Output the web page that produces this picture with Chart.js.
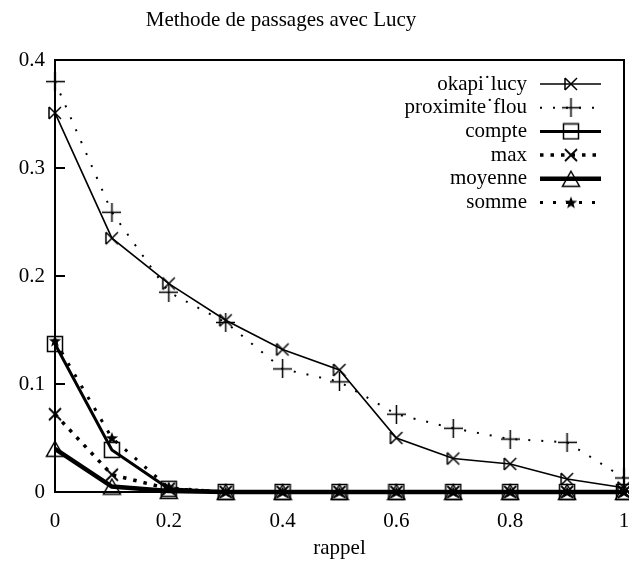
<!DOCTYPE html>
<html>
<head>
<meta charset="utf-8">
<script src="https://cdn.jsdelivr.net/npm/chart.js@4.4.0/dist/chart.umd.min.js"></script>
<style>
  html, body { margin: 0; padding: 0; background: #fff; }
  #wrap { width: 629px; height: 565px; }
</style>
</head>
<body>
<div id="wrap"><canvas id="chart" width="629" height="565"></canvas></div>
<script>
// Data
const rappel = [0, 0.1, 0.2, 0.3, 0.4, 0.5, 0.6, 0.7, 0.8, 0.9, 1];
const okapiLucy = [0.351, 0.235, 0.193, 0.159, 0.132, 0.113, 0.050, 0.031, 0.026, 0.012, 0.004];
const proximiteFlou = [0.380, 0.259, 0.185, 0.157, 0.114, 0.102, 0.072, 0.059, 0.049, 0.046, 0.013];
const compte = [0.137, 0.039, 0.003, 0, 0, 0, 0, 0, 0, 0, 0];
const maxVals = [0.072, 0.016, 0.003, 0, 0, 0, 0, 0, 0, 0, 0];
const moyenne = [0.040, 0.005, 0.001, 0, 0, 0, 0, 0, 0, 0, 0];
const somme = [0.140, 0.050, 0.004, 0, 0, 0, 0, 0, 0, 0, 0];
const seriesNames = ['okapi\u02d9lucy', 'proximite\u02d9flou', 'compte', 'max', 'moyenne', 'somme'];
const yTicks = [0, 0.1, 0.2, 0.3, 0.4];
const xTicks = [0, 0.2, 0.4, 0.6, 0.8, 1];
const chartTitle = 'Methode de passages avec Lucy';

const FONT = '"Liberation Serif", "DejaVu Serif", serif';

// small canvases used as point markers
function makeMarker(w, h, draw) {
    const c = document.createElement('canvas');
    c.width = w; c.height = h;
    const g = c.getContext('2d');
    g.strokeStyle = '#000';
    g.fillStyle = '#000';
    g.lineWidth = 1.5;
    draw(g, w, h);
    return c;
}

const bowtie = makeMarker(16, 16, (g) => {
    g.beginPath();
    g.moveTo(2, 2); g.lineTo(14, 14);
    g.moveTo(2, 14); g.lineTo(14, 2);
    g.moveTo(2, 2); g.lineTo(2, 14);
    g.stroke();
});
const plus = makeMarker(19, 19, (g) => {
    g.beginPath();
    g.moveTo(0, 9.5); g.lineTo(19, 9.5);
    g.moveTo(9.5, 0); g.lineTo(9.5, 19);
    g.stroke();
});
const square = makeMarker(18, 18, (g) => {
    g.strokeRect(1.5, 1.5, 15, 15);
});
const cross = makeMarker(16, 16, (g) => {
    g.lineWidth = 1.8;
    g.beginPath();
    g.moveTo(2, 2); g.lineTo(14, 14);
    g.moveTo(2, 14); g.lineTo(14, 2);
    g.stroke();
});
const triangle = makeMarker(20, 18, (g) => {
    g.beginPath();
    g.moveTo(10, 1.5); g.lineTo(18.5, 16.5); g.lineTo(1.5, 16.5);
    g.closePath();
    g.stroke();
});
const star = makeMarker(14, 14, (g) => {
    g.beginPath();
    for (let i = 0; i < 10; i++) {
        const r = i % 2 === 0 ? 6.5 : 2.7;
        const a = -Math.PI / 2 + i * Math.PI / 5;
        const px = 7 + r * Math.cos(a), py = 7.5 + r * Math.sin(a);
        if (i === 0) g.moveTo(px, py); else g.lineTo(px, py);
    }
    g.closePath();
    g.fill();
});

function pts(values) {
    return rappel.map((x, i) => ({ x: x, y: values[i] }));
}

function makeDataset(label, values, width, dash, marker) {
    return {
        label: label,
        data: pts(values),
        borderColor: '#000',
        backgroundColor: '#000',
        borderWidth: width,
        borderDash: dash,
        borderCapStyle: 'butt',
        pointStyle: marker,
        pointRadius: 8,
        pointHoverRadius: 8,
        tension: 0,
        clip: false,
        fill: false
    };
}

const datasets = [
    makeDataset(seriesNames[0], okapiLucy, 1.6, [], bowtie),
    makeDataset(seriesNames[1], proximiteFlou, 2, [2, 11], plus),
    makeDataset(seriesNames[2], compte, 3, [], square),
    makeDataset(seriesNames[3], maxVals, 3.5, [3.5, 7], cross),
    makeDataset(seriesNames[4], moyenne, 4.5, [], triangle),
    makeDataset(seriesNames[5], somme, 3, [3, 10], star)
];

// title, frame, inward y ticks and the gnuplot-style key
const framePlugin = {
    id: 'framePlugin',
    afterDraw(chart) {
        const ctx = chart.ctx;
        const a = chart.chartArea;
        const yScale = chart.scales.y;
        ctx.save();
        ctx.font = '21px ' + FONT;
        ctx.fillStyle = '#000';
        ctx.textAlign = 'center';
        ctx.textBaseline = 'middle';
        ctx.fillText(chartTitle, 281, 20);

        ctx.strokeStyle = '#000';
        ctx.lineWidth = 2;
        ctx.setLineDash([]);
        ctx.strokeRect(a.left, a.top, a.right - a.left, a.bottom - a.top);
        ctx.beginPath();
        yTicks.forEach(v => {
            const py = yScale.getPixelForValue(v);
            ctx.moveTo(a.left, py);
            ctx.lineTo(a.left + 10, py);
        });
        ctx.stroke();

        // key
        ctx.textAlign = 'right';
        chart.data.datasets.forEach((ds, i) => {
            const y = 84 + i * 23.7;
            ctx.fillText(ds.label, 527, y);
            ctx.lineWidth = ds.borderWidth;
            ctx.lineCap = 'butt';
            ctx.setLineDash(ds.borderDash);
            ctx.beginPath();
            ctx.moveTo(540, y);
            ctx.lineTo(601, y);
            ctx.stroke();
            const m = ds.pointStyle;
            ctx.drawImage(m, 571 - m.width / 2, y - m.height / 2);
        });
        ctx.restore();
    }
};

new Chart(document.getElementById('chart'), {
    type: 'line',
    data: { datasets: datasets },
    options: {
        responsive: false,
        animation: false,
        layout: { autoPadding: false, padding: { top: 60, right: 5, left: 0, bottom: 0 } },
        plugins: {
            legend: { display: false },
            tooltip: { enabled: false },
            title: { display: false }
        },
        scales: {
            x: {
                type: 'linear',
                min: 0,
                max: 1,
                afterFit(scale) {
                    scale.height = 73;
                    scale.paddingLeft = 0;
                    scale.paddingRight = 0;
                },
                afterBuildTicks(scale) { scale.ticks = xTicks.map(v => ({ value: v })); },
                grid: { display: false, drawTicks: false },
                border: { display: false },
                ticks: {
                    color: '#000',
                    padding: 17,
                    maxRotation: 0,
                    font: { family: FONT, size: 21 },
                    callback: v => String(Math.round(v * 10) / 10)
                },
                title: {
                    display: true,
                    text: 'rappel',
                    color: '#000',
                    font: { family: FONT, size: 21 },
                    padding: { top: 0, bottom: 4 }
                }
            },
            y: {
                min: 0,
                max: 0.4,
                afterFit(scale) {
                    scale.width = 55;
                    scale.paddingTop = 0;
                    scale.paddingBottom = 0;
                },
                afterBuildTicks(scale) { scale.ticks = yTicks.map(v => ({ value: v })); },
                grid: { display: false, drawTicks: false },
                border: { display: false },
                ticks: {
                    color: '#000',
                    padding: 10,
                    font: { family: FONT, size: 21 },
                    callback: v => String(Math.round(v * 10) / 10)
                }
            }
        }
    },
    plugins: [framePlugin]
});
</script>
</body>
</html>
